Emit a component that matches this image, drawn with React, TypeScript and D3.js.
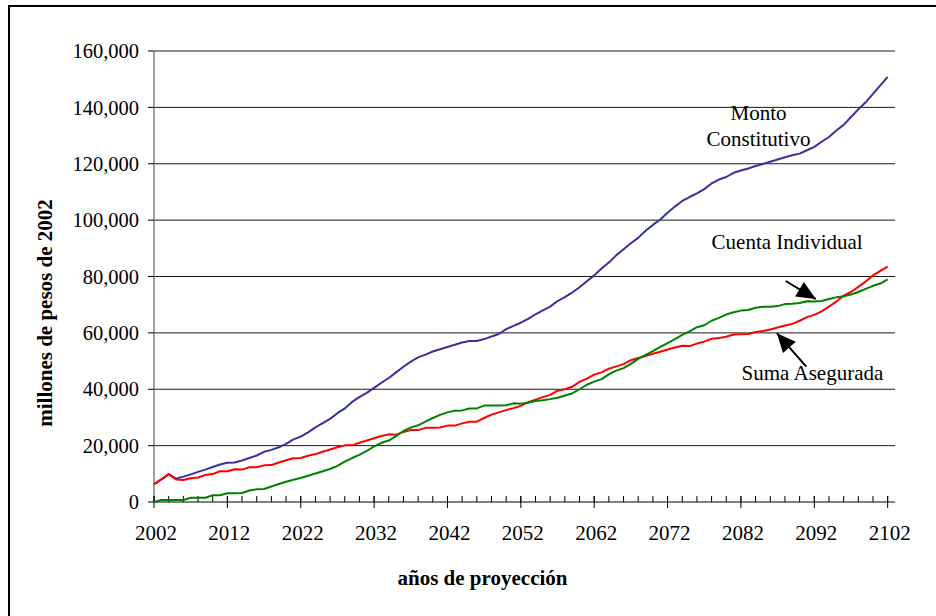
import React from "react";
import * as d3 from "d3";

// Projection years 2002–2102
const years: number[] = d3.range(2002, 2103);

// Monto Constitutivo (millones de pesos de 2002)
const montoConstitutivo: number[] = [
  6300, 8000, 9900, 8300, 9000, 9800, 10700, 11500, 12400, 13300,
  13900, 14000, 14700, 15600, 16500, 17800, 18500, 19400, 20600, 22200,
  23200, 24700, 26500, 28000, 29500, 31500, 33200, 35500, 37200, 38700,
  40500, 42300, 44000, 46000, 48000, 49800, 51300, 52300, 53400, 54200,
  55000, 55800, 56600, 57100, 57100, 57800, 58700, 59600, 61300, 62500,
  63600, 65000, 66600, 68000, 69300, 71300, 72700, 74300, 76200, 78300,
  80400, 82800, 85000, 87500, 89700, 91800, 93700, 96200, 98300, 100200,
  102600, 104800, 106800, 108200, 109500, 111000, 113000, 114400, 115300, 116800,
  117600, 118300, 119200, 119900, 120700, 121500, 122300, 123000, 123600, 124800,
  126000, 127800, 129500, 131800, 133800, 136600, 139300, 141800, 144800, 147800,
  150800,
];

// Suma Asegurada
const sumaAsegurada: number[] = [
  6300, 8000, 9900, 8000, 7800, 8400, 8700, 9600, 9900, 10900,
  10900, 11600, 11500, 12300, 12300, 13000, 13100, 14000, 14800, 15500,
  15600, 16400, 17000, 17800, 18600, 19400, 20100, 20100, 21000, 21800,
  22600, 23400, 24000, 23900, 24800, 25500, 25500, 26300, 26300, 26400,
  27100, 27100, 27900, 28500, 28500, 29800, 31000, 31800, 32600, 33300,
  34100, 35400, 36300, 37200, 38000, 39500, 40000, 40900, 42600, 43800,
  45200, 46000, 47300, 48100, 48900, 50300, 51100, 51800, 52600, 53300,
  54100, 54800, 55400, 55300, 56200, 56900, 57900, 58200, 58600, 59400,
  59500, 59600, 60300, 60700, 61200, 61900, 62600, 63200, 64300, 65600,
  66400, 67600, 69300, 71100, 73200, 74500, 76300, 78200, 80400, 82000,
  83500,
];

// Cuenta Individual
const cuentaIndividual: number[] = [
  0, 700, 700, 700, 700, 1500, 1500, 1500, 2400, 2400,
  3100, 3100, 3200, 4100, 4500, 4600, 5500, 6400, 7200, 7900,
  8500, 9300, 10100, 10900, 11700, 12800, 14300, 15600, 16700, 18100,
  19700, 21000, 21800, 23400, 25200, 26400, 27200, 28500, 29800, 30900,
  31800, 32400, 32500, 33200, 33200, 34200, 34200, 34200, 34300, 35000,
  34900, 35200, 35800, 36100, 36500, 37000, 37800, 38500, 40000, 41600,
  42700, 43600, 45300, 46600, 47500, 49000, 50800, 52200, 53500, 55000,
  56400, 57800, 59300, 60500, 62000, 62700, 64300, 65300, 66500, 67300,
  67900, 68100, 68900, 69300, 69300, 69500, 70200, 70300, 70600, 71200,
  71100, 71300, 72000, 72600, 73000, 73600, 74500, 75600, 76700, 77500,
  79000,
];

const yTicks: number[] = [0, 20000, 40000, 60000, 80000, 100000, 120000, 140000, 160000];
const xLabelYears: number[] = d3.range(2002, 2103, 10);
const xMinorYears: number[] = d3.range(2002, 2103, 2);

const W = 936;
const H = 616;
const FONT = "Liberation Serif, Times New Roman, DejaVu Serif, serif";

const x = d3.scaleLinear().domain([2002, 2103]).range([154, 895]);
const y = d3.scaleLinear().domain([0, 160000]).range([502, 51]);

const line = d3
  .line<number>()
  .x((_, i) => x(years[i]))
  .y((v) => y(v));

const series = [
  { name: "Monto Constitutivo", values: montoConstitutivo, color: "#333399" },
  { name: "Suma Asegurada", values: sumaAsegurada, color: "#FF0000" },
  { name: "Cuenta Individual", values: cuentaIndividual, color: "#008000" },
];

// Callout arrows, anchored in data space (year, value)
const arrows = [
  { from: [2088.1, 78400], to: [2092.2, 72000] },
  { from: [2090.9, 48000], to: [2086.9, 59900] },
];

function arrowHead(fx: number, fy: number, tx: number, ty: number, len: number, half: number) {
  const dx = tx - fx;
  const dy = ty - fy;
  const d = Math.hypot(dx, dy);
  const ux = dx / d;
  const uy = dy / d;
  const bx = tx - ux * len;
  const by = ty - uy * len;
  const px = -uy * half;
  const py = ux * half;
  return `M${tx},${ty}L${bx + px},${by + py}L${bx - px},${by - py}Z`;
}

const textStyle: React.CSSProperties = { fontFamily: FONT };

export default function App() {
  return (
    <div style={{ position: "absolute", left: 0, top: 0 }}>
      <svg width={W} height={H} style={{ display: "block", background: "#fff", fontFamily: FONT }}>
        {/* frame */}
        <rect x={9} y={6} width={1000} height={1000} fill="none" stroke="#000" strokeWidth={2} />

        {/* horizontal gridlines */}
        {yTicks
          .filter((t) => t > 0)
          .map((t) => (
            <line key={`g${t}`} x1={x(2002)} x2={x(2103)} y1={y(t)} y2={y(t)} stroke="#1a1a1a" strokeWidth={1} />
          ))}

        {/* y axis */}
        <line x1={x(2002)} x2={x(2002)} y1={y(0)} y2={y(160000)} stroke="#808080" strokeWidth={1.5} />
        {yTicks.map((t) => (
          <g key={`y${t}`}>
            <line x1={x(2002) - 6} x2={x(2002)} y1={y(t)} y2={y(t)} stroke="#000" strokeWidth={1} />
            <text x={139} y={y(t)} dy="0.35em" textAnchor="end" style={textStyle} fontSize={20.5} fill="#000">
              {d3.format(",")(t)}
            </text>
          </g>
        ))}

        {/* x axis */}
        <line x1={x(2002)} x2={x(2103)} y1={y(0)} y2={y(0)} stroke="#000" strokeWidth={1} />
        {xMinorYears.map((yr) => (
          <line key={`m${yr}`} x1={x(yr)} x2={x(yr)} y1={y(0) - 6} y2={y(0)} stroke="#000" strokeWidth={1} />
        ))}
        {xLabelYears.map((yr) => (
          <g key={`x${yr}`}>
            <line x1={x(yr)} x2={x(yr)} y1={y(0) - 6} y2={y(0) + 6} stroke="#000" strokeWidth={1} />
            <text x={x(yr) + 2} y={540} textAnchor="middle" style={textStyle} fontSize={21} fill="#000">
              {yr}
            </text>
          </g>
        ))}

        {/* series */}
        {series.map((s) => (
          <path key={s.name} d={line(s.values) ?? ""} fill="none" stroke={s.color} strokeWidth={2} strokeLinejoin="round" />
        ))}

        {/* annotations */}
        <text textAnchor="middle" style={textStyle} fontSize={21} fill="#000">
          <tspan x={x(2084.4)} y={y(135500)}>Monto</tspan>
          <tspan x={x(2084.4)} y={y(126300)}>Constitutivo</tspan>
        </text>
        <text x={x(2088.3)} y={y(89600)} textAnchor="middle" style={textStyle} fontSize={21} fill="#000">
          Cuenta Individual
        </text>
        <text x={x(2091.75)} y={y(43300)} textAnchor="middle" style={textStyle} fontSize={21} fill="#000">
          Suma Asegurada
        </text>
        {arrows.map((a, i) => {
          const fx = x(a.from[0]);
          const fy = y(a.from[1]);
          const tx = x(a.to[0]);
          const ty = y(a.to[1]);
          return (
            <g key={`a${i}`}>
              <line x1={fx} y1={fy} x2={tx} y2={ty} stroke="#000" strokeWidth={2} />
              <path d={arrowHead(fx, fy, tx, ty, 19, 8.5)} fill="#000" />
            </g>
          );
        })}

        {/* axis titles */}
        <text x={482.5} y={585} textAnchor="middle" style={textStyle} fontSize={21} fontWeight="bold" fill="#000">
          años de proyección
        </text>
        <text
          transform="translate(52,313) rotate(-90)"
          textAnchor="middle"
          style={textStyle}
          fontSize={21}
          fontWeight="bold"
          fill="#000"
        >
          millones de pesos de 2002
        </text>
      </svg>
    </div>
  );
}
